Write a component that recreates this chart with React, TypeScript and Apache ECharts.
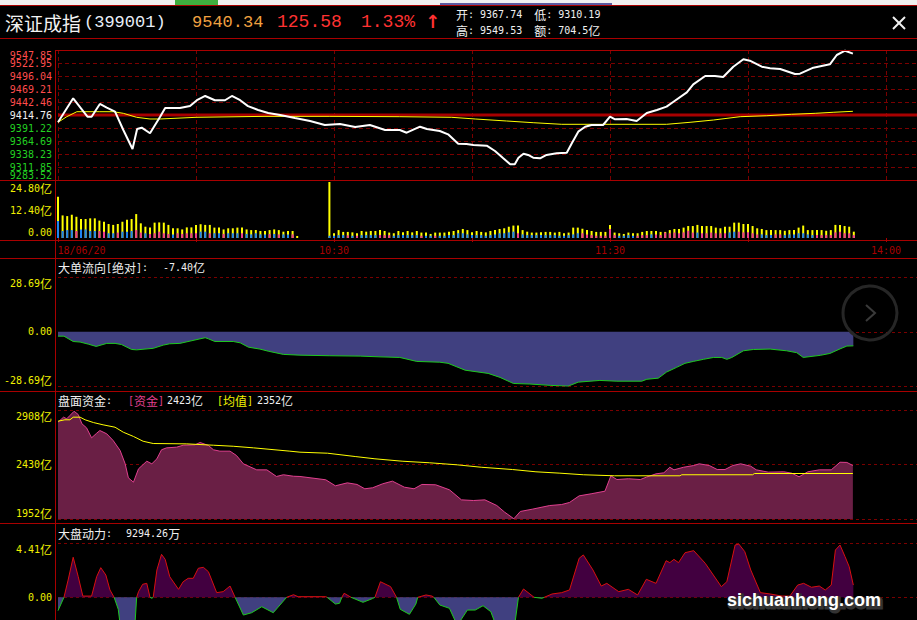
import React, { useEffect, useRef } from 'react';
import * as echarts from 'echarts';

// ---------------- data ----------------
const PREV_CLOSE = 9414.76;
const PRICE_STEP = 26.618;
const PRICE_TICKS = ['9283.52', '9311.85', '9338.23', '9364.69', '9391.22', '9414.76', '9442.46', '9469.21', '9496.04', '9522.95', '9547.85'];
const VOL_TICKS = ['0.00', '12.40亿', '24.80亿'];
const FLOW_TICKS = ['-28.69亿', '0.00', '28.69亿'];
const FUND_BASE = 2430;
const FUND_STEP = 478;
const FUND_TICKS = ['1952亿', '2430亿', '2908亿'];
const POWER_TICKS = ['', '0.00', '4.41亿'];
const TIME_TICK_MIN = [0, 60, 120, 180, 240];
const TIME_TICK_LABELS = ['18/06/20', '10:30', '11:30', '14:00', '15:00'];

// minute index (0 = 9:30) , value
const PRICE_LINE: [number, number][] = [
  [0, 9399.8], [3.3, 9448.9], [6.4, 9411.3], [7.3, 9411.3], [9.1, 9437.3], [10.6, 9429.7], [12.4, 9421.5], [14.2, 9384.0],
  [16.2, 9345.2], [17.2, 9386.1], [18.2, 9388.8], [20, 9377.3], [22.2, 9411.3], [23.3, 9429.1], [26.5, 9429.0], [28.7, 9433.0],
  [30.2, 9445.0], [32, 9453.7], [34.1, 9445.0], [36.3, 9445.0], [37.8, 9453.7], [39.6, 9445.0], [41.3, 9433.0], [43.5, 9425.0],
  [45.7, 9418.9], [48.3, 9414.8], [51.5, 9408.6], [54.8, 9402.5], [58, 9394.3], [61.3, 9396.3], [64.6, 9390.2], [67.8, 9394.3],
  [71.1, 9384.0], [74.3, 9384.0], [75.8, 9378.5], [78.7, 9390.8], [80.2, 9386.1], [83, 9382.0], [84.8, 9375.2], [87, 9356.0],
  [88.8, 9355.4], [90.3, 9353.3], [93.2, 9351.9], [95, 9341.1], [96.8, 9326.1], [98.3, 9313.8], [99.3, 9313.8], [100.1, 9327.4],
  [101.2, 9335.5], [102.2, 9332.9], [103.3, 9327.4], [104.8, 9326.1], [106.2, 9332.9], [108.4, 9336.4], [110.6, 9337.6], [111.7, 9356.8],
  [113.1, 9380.6], [114.6, 9390.8], [116, 9394.3], [118.5, 9394.3], [120, 9411.3], [121.1, 9406.0], [123.6, 9406.6], [125.8, 9402.5],
  [128, 9418.9], [130.2, 9425.0], [132.3, 9431.8], [133.8, 9442.0], [136.7, 9461.2], [138.1, 9477.6], [140.7, 9494.6], [142.8, 9494.6],
  [144.6, 9492.5], [146.8, 9513.6], [149, 9528.8], [150.4, 9525.9], [153, 9513.6], [154.8, 9510.4], [157, 9508.9], [160.2, 9498.7],
  [161.3, 9499.3], [164.2, 9511.6], [167.8, 9518.5], [169.3, 9537.6], [171.1, 9546.4], [172.8, 9540.3],
];
const PRICE_AVG: [number, number][] = [
  [0, 9399.8], [1.9, 9411.3], [4.1, 9421.5], [9.1, 9421.5], [12, 9421.5], [14.2, 9418.2], [17.1, 9410.0], [20, 9406.6],
  [22.2, 9406.6], [30, 9410.0], [45, 9412.0], [59.1, 9412.0], [74.3, 9411.3], [85.6, 9410.0], [90.7, 9406.6], [97.5, 9402.5],
  [103.3, 9399.0], [109.5, 9395.7], [132.3, 9395.7], [137.4, 9399.8], [142.5, 9404.5], [148.3, 9411.3], [154.1, 9413.3],
  [159.5, 9416.2], [164.6, 9418.2], [168.5, 9420.3], [172.8, 9422.3],
];

// volume per minute (亿): total, lower part, side of lower part (B = blue, S = pink)
const VOL_TOTAL = [
  18.3, 10.0, 9.7, 10.3, 9.4, 8.4, 8.4, 8.7, 8.7, 7.7, 7.2, 6.2, 5.8, 6.2, 7.2, 8.1, 8.4, 10.6, 6.5, 5.0,
  4.7, 6.8, 6.9, 6.8, 5.8, 4.3, 4.3, 3.8, 4.7, 4.7, 5.8, 6.1, 5.8, 5.8, 4.6, 4.6, 3.8, 4.3, 4.3, 4.6,
  4.6, 3.8, 3.5, 3.5, 3.1, 3.1, 3.5, 3.8, 3.5, 2.8, 3.1, 3.1, 0.9, 0, 0, 0, 0, 0, 0,
  24.8, 2.1, 3.5, 2.7, 2.7, 2.5, 2.1, 3.1, 2.8, 3.1, 3.1, 3.5, 3.1, 2.4, 2.1, 3.1, 2.5, 3.1, 2.5, 3.1,
  2.4, 2.4, 1.8, 2.4, 2.4, 2.4, 2.8, 3.1, 3.5, 4.0, 3.5, 2.5, 3.1, 2.7, 2.5, 3.1, 3.5, 4.0, 4.3, 5.0,
  5.5, 5.5, 3.5, 2.8, 2.4, 2.4, 2.5, 2.7, 2.7, 2.4, 2.7, 2.1, 2.4, 4.6, 4.6, 4.1, 3.5, 3.1, 2.7, 2.7,
  2.7, 5.8, 2.4, 2.1, 1.8, 2.4, 2.1, 2.1, 2.7, 3.1, 3.1, 3.1, 2.7, 2.7, 3.5, 4.0, 4.0, 4.6, 5.3, 5.3,
  5.8, 5.3, 5.3, 5.3, 4.6, 4.3, 5.0, 5.0, 6.8, 6.8, 6.2, 6.2, 5.3, 4.3, 4.0, 3.5, 3.5, 3.5, 3.5, 3.2,
  3.5, 3.5, 4.6, 5.5, 3.5, 3.5, 3.5, 3.5, 3.2, 3.5, 5.8, 5.8, 5.3, 5.0, 2.8,
];
const VOL_PART = [
  7.5, 3.1, 3.5, 3.5, 3.1, 3.8, 3.8, 3.1, 3.1, 3.1, 2.8, 2.1, 2.1, 2.4, 2.8, 2.8, 3.1, 3.5, 2.4, 2.1,
  1.8, 2.1, 2.8, 2.1, 1.8, 1.6, 2.1, 1.8, 2.1, 2.1, 2.1, 2.8, 2.8, 2.1, 2.1, 2.1, 1.8, 2.1, 2.1, 2.1,
  2.1, 1.8, 1.6, 2.1, 1.6, 1.6, 1.8, 1.8, 1.6, 1.6, 1.6, 1.6, 0, 0, 0, 0, 0, 0, 0,
  1.0, 1.0, 1.3, 1.3, 1.2, 1.0, 1.0, 1.3, 1.3, 1.3, 1.3, 1.3, 1.3, 1.3, 1.0, 1.3, 1.3, 1.3, 1.3, 1.3,
  1.0, 1.0, 1.0, 1.0, 1.0, 1.0, 1.3, 1.3, 2.1, 2.1, 1.6, 1.3, 1.3, 1.3, 1.0, 1.3, 1.6, 2.1, 2.1, 2.5,
  2.8, 2.1, 1.6, 1.3, 1.3, 1.3, 1.3, 1.3, 1.3, 1.3, 1.0, 1.0, 1.3, 1.6, 2.1, 2.1, 1.6, 1.3, 1.0, 1.0,
  1.0, 4.0, 1.3, 1.0, 1.0, 1.3, 1.0, 1.0, 1.3, 1.3, 1.6, 1.6, 1.3, 2.4, 2.1, 2.4, 2.1, 2.5, 3.2, 2.4,
  2.4, 2.1, 2.1, 2.4, 2.1, 2.1, 2.1, 2.5, 2.8, 2.8, 2.5, 2.5, 2.1, 1.6, 1.6, 1.3, 1.3, 1.6, 1.6, 1.3,
  1.6, 1.6, 2.1, 2.1, 1.6, 1.3, 1.3, 1.3, 1.3, 1.3, 2.5, 2.8, 2.1, 2.1, 1.3,
];
const VOL_SIDE = (
  'BBBBSBBBBSSBBSBBBSSBSSSSSBSSSSSBBSBBSBBBSBBBBBSBSBBSB' + 'BBBBBB' +
  'BBBBSBSBBBBSSSBBBBBBSBBSBBBBBBBBBBBBBBBBBSBBBBBBBBBBBBBSSSSSSSSBBBBSSSBSSSSSSSSSBSSSSSSBBSSSSSBBBSSBBBBBBBSSSSSSSSSSB'
).split('');

const FLOW: [number, number][] = [
  [0, -2.3], [1.3, -2.3], [3.3, -5.1], [4.8, -5.4], [6.6, -6.5], [8.3, -7.7], [10.6, -6.1], [12.4, -6.1], [13.8, -6.7],
  [16, -9.3], [17.1, -9.5], [20.7, -8.7], [22.9, -7.0], [24.3, -6.3], [26.5, -6.1], [28.7, -4.9], [32, -3.1], [32.7, -3.7],
  [34.1, -5.1], [38.1, -5.1], [39.6, -5.8], [41.4, -8.1], [43.9, -9.1], [45.7, -10.2], [49, -11.9], [52.6, -12.3],
  [59.1, -12.6], [65.7, -12.8], [70, -13.2], [74.3, -13.5], [78, -15.6], [83, -16.0], [84.8, -16.6], [88.5, -20.2],
  [93.5, -21.9], [96.1, -24.0], [99, -27.2], [102.6, -27.5], [107, -28.2], [110.9, -28.6], [113.1, -26.5], [117.8, -25.6],
  [121.5, -26.0], [126.9, -26.0], [128, -25.0], [130.5, -24.4], [132.3, -21.2], [134.5, -18.7], [136.3, -16.6], [138.1, -15.6],
  [140.3, -14.5], [142.5, -13.5], [144.3, -13.5], [145.4, -14.5], [146.5, -13.5], [149, -10.0], [151.2, -9.3], [154.8, -9.1],
  [158.4, -10.0], [160.6, -11.0], [162, -13.5], [165.7, -12.4], [167.8, -11.4], [170, -9.0], [171.5, -7.5], [172.9, -7.4],
];

const FUND: [number, number][] = [
  [0, 2801], [1.2, 2845], [1.9, 2831], [2.6, 2860], [3.5, 2897], [4.4, 2868], [5.2, 2787], [6.2, 2752], [7.3, 2664],
  [8.4, 2704], [9.1, 2728], [10.6, 2699], [12, 2640], [13.5, 2553], [14.6, 2436], [15.3, 2313], [16.4, 2275], [17.5, 2392],
  [19.3, 2459], [20.4, 2436], [21.5, 2480], [22.5, 2559], [23.6, 2576], [25.8, 2582], [27.2, 2599], [29.8, 2603], [30.9, 2623],
  [32.7, 2597], [33.8, 2559], [35.2, 2547], [37.4, 2547], [38.8, 2509], [40.3, 2436], [43.2, 2383], [45.4, 2383], [47.5, 2325],
  [49, 2340], [51.2, 2327], [52.6, 2325], [58.2, 2296], [60.3, 2243], [62.9, 2269], [65, 2255], [66.7, 2217], [68.4, 2226],
  [70.6, 2261], [72.7, 2284], [75.3, 2231], [77.4, 2217], [79.1, 2255], [82.1, 2252], [85.1, 2208], [87.7, 2120], [90.3, 2114],
  [92.8, 2120], [95.4, 2070], [97.1, 2012], [99.1, 1954], [100.5, 2018], [103.1, 2038], [106.9, 2070], [109.5, 2079], [111.2, 2097],
  [113.3, 2155], [115.9, 2173], [118.9, 2196], [120.2, 2331], [121.5, 2298], [124, 2305], [126.6, 2298], [127.9, 2319], [130, 2348],
  [131.7, 2357], [133, 2406], [133.9, 2383], [136, 2406], [138.2, 2421], [139.4, 2436], [141.6, 2421], [143.3, 2386], [145, 2386],
  [146.7, 2421], [148.4, 2436], [150.6, 2415], [151.8, 2383], [154.4, 2363], [157.8, 2366], [159.5, 2354], [161.1, 2322],
  [163, 2366], [165.5, 2383], [168.1, 2383], [170, 2450], [171.5, 2448], [172.8, 2421],
];
const FUND_AVG: [number, number][] = [
  [0, 2810], [1.5, 2822], [2.6, 2822], [3.3, 2845], [4.8, 2845], [5.9, 2822], [7.7, 2798], [9.8, 2778], [12.4, 2757],
  [14.2, 2713], [16.4, 2676], [18.5, 2634], [20.7, 2614], [28, 2611], [33.8, 2599], [38.1, 2590], [42.5, 2576], [50.4, 2547],
  [52.6, 2538], [58.6, 2529], [64.6, 2500], [68.9, 2480], [74.8, 2459], [80.8, 2445], [86.8, 2427], [92, 2406], [98.8, 2386],
  [103.9, 2366], [109.1, 2354], [114.2, 2340], [121, 2331], [135.2, 2331], [135.6, 2340], [151, 2340], [151.4, 2351], [172.8, 2351],
];

const POWER: [number, number][] = [
  [0, -1.09], [1.3, 0], [2.2, 1.41], [3.3, 3.27], [4.4, 1.68], [5.4, 0.1], [7.3, 0.1], [8.4, 1.68], [9.3, 2.42], [10.4, 1.82],
  [11.3, 0.6], [12.2, 0], [13.1, -0.98], [13.6, -2.5], [15, -2.8], [16.7, -2.4], [17.1, 0], [17.5, 0.46], [18.4, 1.06],
  [19.3, 1.14], [20, 0], [20.4, -0.08], [20.7, 0], [21.5, 2.23], [22.5, 3.51], [23.3, 3.1], [24.3, 1.68], [26.2, 0.65],
  [27.2, 1.27], [28.3, 1.55], [29.4, 1.55], [30.5, 2.37], [31.6, 2.45], [32.7, 2.09], [34.5, 0.38], [35.9, 0.46], [37.4, 0.92],
  [38.5, 0], [40.3, -1.45], [42.1, -1.26], [44.3, -0.77], [46.8, -1.26], [49.7, 0], [51.2, 0.21], [52.2, 0.05], [58.2, 0.05],
  [58.5, 0], [60.3, -0.55], [61.2, -0.49], [61.7, 0], [62.2, 0.33], [63.7, 0], [66.3, -0.41], [68.4, -0.1], [68.9, 0],
  [70.1, 1.27], [72.3, 0.87], [73.6, 0], [74.4, -0.98], [76.4, -1.39], [77.8, -0.55], [78.2, 0], [80, 0.19], [81.3, 0.1],
  [81.7, 0], [83, -0.63], [85.1, -0.9], [86.8, -2.3], [89, -1.04], [90.7, -1.04], [92.4, -0.69], [94.1, -1.18], [95.4, -2.5],
  [97.2, -3.0], [99.2, -2.5], [100.1, 0], [101.2, 0.68], [103.5, 0], [105.2, -0.08], [105.7, 0], [107.4, 0.27], [109.5, 0.38],
  [111.2, 0.6], [113.3, 3.19], [114.2, 3.46], [116.3, 2.23], [118.1, 0.92], [119.3, 1.14], [121.9, 0.46], [124, 0.65],
  [126, 0.19], [127.9, 1.47], [130, 1.14], [132.2, 2.99], [133, 2.83], [133.9, 3.1], [134.9, 2.83], [136.3, 3.64], [138.2, 3.81],
  [140.7, 2.78], [144.2, 0.87], [145.4, 1.27], [147.2, 4.27], [148, 4.35], [149.3, 3.73], [150.6, 2.23], [152.7, 0.38],
  [154.8, 0.27], [157.4, 0.1], [159.1, 0.1], [160.8, 1.0], [162.1, 1.14], [163.8, 0.82], [165.5, 0.92], [166.8, 0.6],
  [168.1, 1.0], [169, 3.86], [170, 4.27], [171.1, 3.32], [172, 2.5], [172.9, 1.0],
];

// ---------------- styling ----------------
const RED = '#a80000';
const DASH = '#7a0000';
const YEL = '#f0f000';
const MONO = "'DejaVu Sans Mono', 'Liberation Mono', monospace";
const CJK = "'Noto Sans CJK SC', sans-serif";
const GL = 58;
const GW = 1104;

const CJK_RE = /[\u2E80-\u9FFF\uFF00-\uFFEF]/;
function segs(s: string): string[] {
  return s.match(/[\u2E80-\u9FFF\uFF00-\uFFEF]+|[^\u2E80-\u9FFF\uFF00-\uFFEF]+/g) || [];
}
function richify(s: string, suffix = ''): string {
  return segs(s).map((seg) => (CJK_RE.test(seg) ? `{c${suffix}|${seg}}` : `{n${suffix}|${seg}}`)).join('');
}
// rich styles for axis labels; t = pushed down (max label), b = pushed up (min label)
function axisRich(color: string) {
  const out: any = {};
  const pads: Record<string, number[]> = { '': [0, 0, 0, 0], t: [12, 0, 0, 0], b: [0, 0, 12, 0] };
  Object.keys(pads).forEach((k) => {
    out['c' + k] = { fontFamily: CJK, fontSize: 12, color, padding: pads[k], lineHeight: 14 };
    out['n' + k] = { fontFamily: MONO, fontSize: 10, color, padding: pads[k], lineHeight: 14 };
  });
  return out;
}
function gText(text: string, x: number, y: number, color: string): any {
  return {
    type: 'text', x, y, z: 30, silent: true,
    style: {
      text: richify(text), fill: color, verticalAlign: 'middle', textVerticalAlign: 'middle', align: 'left', textAlign: 'left',
      fontFamily: MONO, fontSize: 10, lineHeight: 12,
      rich: {
        c: { fontFamily: CJK, fontSize: 12, fill: color, lineHeight: 12 },
        n: { fontFamily: MONO, fontSize: 10, fill: color, lineHeight: 12 },
      },
    },
  };
}
function gPlain(text: string, x: number, y: number, color: string, font: string, extra: any = {}): any {
  return {
    type: 'text', x, y, z: 30, silent: true,
    style: { text, fill: color, font, verticalAlign: 'middle', textVerticalAlign: 'middle', align: 'left', textAlign: 'left', ...extra },
  };
}
function hLine(y: number, x1 = 0, x2 = 917, color = RED, w = 1): any {
  return { type: 'line', z: 25, silent: true, shape: { x1, y1: y, x2, y2: y }, style: { stroke: color, lineWidth: w } };
}

function xAxisBase(gi: number, extra: any = {}): any {
  return {
    type: 'value', gridIndex: gi, min: 0, max: 240, interval: 30,
    axisLine: { show: false }, axisTick: { show: false }, axisLabel: { show: false }, splitLine: { show: false },
    ...extra,
  };
}
function yAxisBase(gi: number, min: number, max: number, interval: number, labels: string[], toIdx: (v: number) => number, dashed = true): any {
  const last = labels.length - 1;
  return {
    type: 'value', gridIndex: gi, min, max, interval, position: 'left', offset: 3,
    axisLine: { show: false }, axisTick: { show: false },
    splitLine: { show: dashed, lineStyle: { color: DASH, type: [3, 3], width: 1 } },
    axisLabel: {
      show: true, margin: 3, showMinLabel: true, showMaxLabel: true,
      formatter: (v: number) => {
        const k = toIdx(v);
        const s = labels[k];
        if (!s) return '';
        return richify(s, k === last ? 't' : k === 0 ? 'b' : '');
      },
      rich: axisRich(YEL),
    },
  };
}

const PRICE_COLORS = ['#22d022', '#f0f0f0', '#ff4c4c'];
function priceColor(k: number) { return k < 5 ? PRICE_COLORS[0] : k === 5 ? PRICE_COLORS[1] : PRICE_COLORS[2]; }
// price axis: 'mid' = inner labels, 'top' = max label only (hangs below), 'bottom' = min label only (sits above)
function priceAxis(mode: 'mid' | 'top' | 'bottom'): any {
  return {
    type: 'value', gridIndex: 0, min: -5, max: 5, interval: 1, position: 'left', offset: 3,
    axisLine: { show: false }, axisTick: { show: false },
    splitLine: { show: mode === 'mid', lineStyle: { color: DASH, type: [4, 3], width: 1 } },
    axisLabel: {
      show: true, margin: 3,
      showMinLabel: mode !== 'mid', showMaxLabel: mode !== 'mid',
      verticalAlign: mode === 'top' ? 'top' : mode === 'bottom' ? 'bottom' : 'middle',
      fontFamily: MONO, fontSize: 10,
      color: (v: any) => priceColor(Math.round(Number(v)) + 5),
      formatter: (v: number) => {
        const k = Math.round(v) + 5;
        if (mode === 'top') return k === 10 ? PRICE_TICKS[k] : '';
        if (mode === 'bottom') return k === 0 ? PRICE_TICKS[k] : '';
        return k > 0 && k < 10 ? PRICE_TICKS[k] : '';
      },
    },
  };
}

function buildOption(): any {
  const grid = [
    { left: GL, top: 50, width: GW, height: 130 },
    { left: GL, top: 182, width: GW, height: 56 },
    { left: GL, top: 277.3, width: GW, height: 109 },
    { left: GL, top: 410, width: GW, height: 109 },
    { left: GL, top: 543.3, width: GW, height: 108 },
  ].map((g) => ({ ...g, outerBoundsMode: 'none', containLabel: false, show: false }));

  const xAxis = [
    xAxisBase(0, { splitLine: { show: true, lineStyle: { color: DASH, type: [4, 3], width: 1 } } }),
    xAxisBase(1, {
      offset: 2,
      axisTick: { show: true, length: 4, lineStyle: { color: RED } },
      axisLabel: {
        show: true, margin: 5, color: RED, fontFamily: MONO, fontSize: 10,
        formatter: (v: number) => {
          const k = TIME_TICK_MIN.indexOf(Math.round(v));
          if (k < 0) return '';
          return k === 0 ? `{p|${TIME_TICK_LABELS[k]}}` : TIME_TICK_LABELS[k];
        },
        rich: { p: { fontFamily: MONO, fontSize: 10, color: RED, padding: [0, 0, 0, 47] } },
      },
    }),
    xAxisBase(2), xAxisBase(3), xAxisBase(4),
  ];

  const yAxis = [
    priceAxis('mid'),
    yAxisBase(1, 0, 24.8, 12.4, VOL_TICKS, (v) => Math.round(v / 12.4), false),
    yAxisBase(2, -28.69, 28.69, 28.69, FLOW_TICKS, (v) => Math.round(v / 28.69) + 1),
    yAxisBase(3, -1, 1, 1, FUND_TICKS, (v) => Math.round(v) + 1),
    yAxisBase(4, -4.41, 4.41, 4.41, POWER_TICKS, (v) => Math.round(v / 4.41) + 1),
    priceAxis('top'),
    priceAxis('bottom'),
  ];

  const toPrice = (v: number) => (v - PREV_CLOSE) / PRICE_STEP;
  const toFund = (v: number) => (v - FUND_BASE) / FUND_STEP;

  const series: any[] = [
    { // previous close line
      type: 'line', xAxisIndex: 0, yAxisIndex: 0, z: 3, symbol: 'none', showSymbol: false,
      data: [[0, toPrice(PREV_CLOSE)], [240, toPrice(PREV_CLOSE)]],
      lineStyle: { color: RED, width: 3 },
    },
    { // avg
      type: 'line', xAxisIndex: 0, yAxisIndex: 0, z: 4, showSymbol: false, symbol: 'none',
      data: PRICE_AVG.map(([t, v]) => [t, toPrice(v)]),
      lineStyle: { color: '#ffff00', width: 1 },
    },
    { // price
      type: 'line', xAxisIndex: 0, yAxisIndex: 0, z: 5, showSymbol: false, symbol: 'none',
      data: PRICE_LINE.map(([t, v]) => [t, toPrice(v)]),
      lineStyle: { color: '#ffffff', width: 2 },
    },
    { // volume total (yellow)
      type: 'bar', xAxisIndex: 1, yAxisIndex: 1, barWidth: 2, barGap: '-100%', z: 2,
      itemStyle: { color: '#ffff00' },
      data: VOL_TOTAL.map((v, i) => [i, v]),
    },
    { // volume lower part (blue / pink), drawn over the total
      type: 'bar', xAxisIndex: 1, yAxisIndex: 1, barWidth: 2, barGap: '-100%', z: 3,
      data: VOL_PART.map((v, i) => ({ value: [i, v], itemStyle: { color: VOL_SIDE[i] === 'B' ? '#1e84f0' : '#f03c8c' } })),
    },
    { // big order flow
      type: 'line', xAxisIndex: 2, yAxisIndex: 2, showSymbol: false, symbol: 'none',
      data: FLOW, lineStyle: { color: '#1ec81e', width: 1 }, areaStyle: { color: '#404080', opacity: 1 },
    },
    { // fund
      type: 'line', xAxisIndex: 3, yAxisIndex: 3, showSymbol: false, symbol: 'none', z: 2,
      data: FUND.map(([t, v]) => [t, toFund(v)]),
      lineStyle: { color: '#e0408f', width: 1 }, areaStyle: { color: '#6a1f45', opacity: 1, origin: 'start' },
    },
    { // fund avg
      type: 'line', xAxisIndex: 3, yAxisIndex: 3, showSymbol: false, symbol: 'none', z: 3,
      data: FUND_AVG.map(([t, v]) => [t, toFund(v)]),
      lineStyle: { color: '#ffff00', width: 1 },
    },
    { // power positive area
      type: 'line', xAxisIndex: 4, yAxisIndex: 4, showSymbol: false, symbol: 'none',
      data: POWER.map(([t, v]) => [t, Math.max(v, 0)]),
      lineStyle: { width: 0, opacity: 0 }, areaStyle: { color: '#420040', opacity: 1 },
    },
    { // power negative area
      type: 'line', xAxisIndex: 4, yAxisIndex: 4, showSymbol: false, symbol: 'none',
      data: POWER.map(([t, v]) => [t, Math.min(v, 0)]),
      lineStyle: { width: 0, opacity: 0 }, areaStyle: { color: '#404080', opacity: 1 },
    },
    { // power line, positive runs
      type: 'line', xAxisIndex: 4, yAxisIndex: 4, showSymbol: false, symbol: 'none', z: 4, connectNulls: false,
      data: POWER.map(([t, v]) => [t, v >= 0 ? v : null]), lineStyle: { width: 1, color: '#d81010' },
    },
    { // power line, negative runs
      type: 'line', xAxisIndex: 4, yAxisIndex: 4, showSymbol: false, symbol: 'none', z: 4, connectNulls: false,
      data: POWER.map(([t, v]) => [t, v <= 0 ? v : null]), lineStyle: { width: 1, color: '#1ec81e' },
    },
  ];

  const graphicEls: any[] = [
    // top strip
    { type: 'rect', z: 20, silent: true, shape: { x: 0, y: 0, width: 917, height: 5 }, style: { fill: '#f0f0f0' } },
    { type: 'rect', z: 21, silent: true, shape: { x: 175, y: 0, width: 43, height: 5 }, style: { fill: '#3fae3f' } },
    { type: 'rect', z: 21, silent: true, shape: { x: 440, y: 3, width: 172, height: 2 }, style: { fill: '#5a5aa0' } },
    hLine(5.5), hLine(38.5), hLine(50.5, 55), hLine(180.5), hLine(240.5), hLine(258.5), hLine(391.5), hLine(523.5),
    { type: 'line', z: 25, silent: true, shape: { x1: 55.5, y1: 50, x2: 55.5, y2: 620 }, style: { stroke: RED, lineWidth: 1 } },
    // header
    gPlain('深证成指', 5, 22, '#f2f2f2', `19px ${CJK}`),
    gPlain('(399001)', 84, 22, '#e8eef8', `17px 'Liberation Mono', monospace`),
    gPlain('9540.34', 192, 22, '#f0a040', `17px 'Liberation Mono', monospace`),
    gPlain('125.58', 277, 22, '#ff3232', `18px 'Liberation Mono', monospace`),
    gPlain('1.33%', 361, 22, '#ff3232', `18px 'Liberation Mono', monospace`),
    gPlain('↑', 425, 21, '#ff3232', `bold 18px 'DejaVu Sans', sans-serif`),
    gText('开: 9367.74  低: 9310.19', 456, 14.5, '#f0f0f0'),
    gText('高: 9549.53  额: 704.5亿', 456, 30.5, '#f0f0f0'),
    { type: 'line', z: 30, silent: true, shape: { x1: 893, y1: 17, x2: 905, y2: 29 }, style: { stroke: '#f0f0f0', lineWidth: 2 } },
    { type: 'line', z: 30, silent: true, shape: { x1: 905, y1: 17, x2: 893, y2: 29 }, style: { stroke: '#f0f0f0', lineWidth: 2 } },
    // panel titles
    gText('大单流向[绝对]:', 58, 267, '#f0f0f0'),
    gText('-7.40亿', 163, 267, '#f0f0f0'),
    gText('盘面资金:', 58, 400.5, '#f0f0f0'),
    gText('[资金]', 128, 400.5, '#e0408f'),
    gText('2423亿', 167, 400.5, '#f0f0f0'),
    gText('[均值]', 217, 400.5, YEL),
    gText('2352亿', 257, 400.5, '#f0f0f0'),
    gText('大盘动力:', 58, 533.5, '#f0f0f0'),
    gText('9294.26万', 126, 533.5, '#f0f0f0'),
    // round nav button
    { type: 'circle', z: 30, silent: true, shape: { cx: 870, cy: 313, r: 27 }, style: { fill: 'none', stroke: '#262626', lineWidth: 3 } },
    { type: 'polyline', z: 30, silent: true, shape: { points: [[866, 305], [875, 313], [866, 321]] }, style: { fill: 'none', stroke: '#3a3a3a', lineWidth: 2 } },
    // watermark
    gPlain('sichuanhong.com', 728.5, 601.5, '#333333', `bold 18px 'Liberation Sans', sans-serif`, { stroke: '#333333', lineWidth: 3 }),
    gPlain('sichuanhong.com', 727, 600, '#ffffff', `bold 18px 'Liberation Sans', sans-serif`),
  ];

  return {
    animation: false,
    backgroundColor: '#000000',
    textStyle: { fontFamily: MONO },
    grid, xAxis, yAxis, series,
    graphic: { elements: graphicEls },
  };
}

export default function App() {
  const ref = useRef<HTMLDivElement>(null);
  useEffect(() => {
    if (!ref.current) return;
    const chart = echarts.init(ref.current, null, { renderer: 'svg' });
    chart.setOption(buildOption());
    return () => chart.dispose();
  }, []);
  return (
    <div
      ref={ref}
      style={{ position: 'absolute', left: 0, top: 0, width: 917, height: 620, background: '#000', overflow: 'hidden' }}
    />
  );
}
